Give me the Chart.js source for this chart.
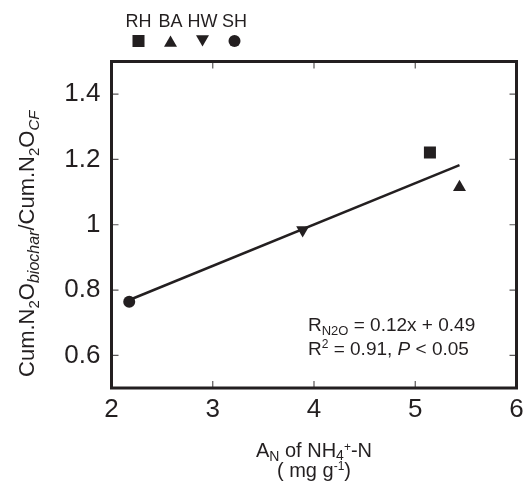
<!DOCTYPE html>
<html>
<head>
<meta charset="utf-8">
<script src="https://cdn.jsdelivr.net/npm/chart.js@4/dist/chart.umd.min.js"></script>
<style>
  html, body { margin: 0; padding: 0; background: #fff; }
  canvas { display: block; }
</style>
</head>
<body>
<canvas id="c" width="525" height="485"></canvas>
<script>
// Biochar types and their measured values
const biochars = ['RH', 'BA', 'HW', 'SH'];
const nh4Adsorption = [5.145, 5.437, 3.888, 2.175];   // A_N of NH4+-N (mg g-1)
const n2oRatio = [1.221, 1.115, 0.984, 0.764];        // Cum.N2O biochar / Cum.N2O CF
const xTicks = [2, 3, 4, 5, 6];
const yTicks = [0.6, 0.8, 1, 1.2, 1.4];

const INK = '#231f20';
const FAMILY = "'Liberation Sans', Arial, sans-serif";

const markerFor = {
  RH: { pointStyle: 'rect', radius: 8.5, rotation: 0 },
  BA: { pointStyle: 'triangle', radius: 7.5, rotation: 0 },
  HW: { pointStyle: 'triangle', radius: 7.5, rotation: 180 },
  SH: { pointStyle: 'circle', radius: 6, rotation: 0 }
};

// Least-squares fit through the four biochars
function linearFit(xs, ys) {
  const n = xs.length;
  const mx = xs.reduce((a, b) => a + b, 0) / n;
  const my = ys.reduce((a, b) => a + b, 0) / n;
  let sxy = 0, sxx = 0;
  for (let i = 0; i < n; i++) {
    sxy += (xs[i] - mx) * (ys[i] - my);
    sxx += (xs[i] - mx) * (xs[i] - mx);
  }
  const slope = sxy / sxx;
  return { slope, intercept: my - slope * mx };
}
const fit = linearFit(nh4Adsorption, n2oRatio);
const xLo = Math.min(...nh4Adsorption);
const xHi = Math.max(...nh4Adsorption);

const datasets = biochars.map((name, i) => ({
  label: name,
  data: [{ x: nh4Adsorption[i], y: n2oRatio[i] }],
  pointStyle: markerFor[name].pointStyle,
  pointRadius: markerFor[name].radius,
  pointRotation: markerFor[name].rotation,
  pointBackgroundColor: INK,
  pointBorderColor: INK,
  pointBorderWidth: 0,
  order: 1
}));
datasets.push({
  label: 'fit',
  type: 'line',
  data: [
    { x: xLo, y: fit.intercept + fit.slope * xLo },
    { x: xHi, y: fit.intercept + fit.slope * xHi }
  ],
  borderColor: INK,
  borderWidth: 2.5,
  pointRadius: 0,
  fill: false,
  order: 2
});

// Draw a sequence of text pieces with their own fonts and vertical shifts
function drawRuns(ctx, runs, x, y, align) {
  let total = 0;
  runs.forEach(r => { ctx.font = r.font; r.w = ctx.measureText(r.text).width; total += r.w; });
  let cx = align === 'center' ? x - total / 2 : x;
  ctx.textBaseline = 'alphabetic';
  ctx.textAlign = 'left';
  runs.forEach(r => {
    ctx.font = r.font;
    ctx.fillText(r.text, cx, y + (r.dy || 0));
    cx += r.w;
  });
}

const decorations = {
  id: 'decorations',
  afterDraw(chart) {
    const ctx = chart.ctx;
    const area = chart.chartArea;
    const xs = chart.scales.x, ys = chart.scales.y;
    ctx.save();

    // inward tick marks on all four sides
    ctx.strokeStyle = '#5a5758';
    ctx.lineWidth = 1.2;
    const tl = 7;
    xTicks.forEach(v => {
      if (v === xs.min || v === xs.max) return;
      const px = xs.getPixelForValue(v);
      ctx.beginPath();
      ctx.moveTo(px, area.bottom); ctx.lineTo(px, area.bottom - tl);
      ctx.moveTo(px, area.top); ctx.lineTo(px, area.top + tl);
      ctx.stroke();
    });
    yTicks.forEach(v => {
      const py = ys.getPixelForValue(v);
      ctx.beginPath();
      ctx.moveTo(area.left, py); ctx.lineTo(area.left + tl, py);
      ctx.moveTo(area.right, py); ctx.lineTo(area.right - tl, py);
      ctx.stroke();
    });

    // frame
    ctx.strokeStyle = INK;
    ctx.lineWidth = 3;
    ctx.strokeRect(area.left, area.top, area.right - area.left, area.bottom - area.top);

    ctx.fillStyle = INK;
    const main = (s) => s + 'px ' + FAMILY;

    // y axis title
    ctx.save();
    ctx.translate(34, (area.top + area.bottom) / 2 + 19);
    ctx.rotate(-Math.PI / 2);
    drawRuns(ctx, [
      { text: 'Cum.N', font: main(22) },
      { text: '2', font: main(15), dy: 5 },
      { text: 'O', font: main(22) },
      { text: 'biochar', font: 'italic ' + main(16), dy: 5 },
      { text: '/Cum.N', font: main(22) },
      { text: '2', font: main(15), dy: 5 },
      { text: 'O', font: main(22) },
      { text: 'CF', font: 'italic ' + main(15), dy: 5 }
    ], 0, 0, 'center');
    ctx.restore();

    // x axis title
    const xc = (area.left + area.right) / 2;
    drawRuns(ctx, [
      { text: 'A', font: main(20) },
      { text: 'N', font: main(14), dy: 4 },
      { text: ' of NH', font: main(20) },
      { text: '4', font: main(14), dy: 3 },
      { text: '+', font: main(12), dy: -6 },
      { text: '-N', font: main(20) }
    ], xc, 457, 'center');
    drawRuns(ctx, [
      { text: '( mg g', font: main(20) },
      { text: '-1', font: main(12), dy: -7 },
      { text: ')', font: main(20) }
    ], xc, 477, 'center');

    // regression annotation
    drawRuns(ctx, [
      { text: 'R', font: main(19) },
      { text: 'N2O', font: main(13), dy: 4 },
      { text: ' = 0.12x + 0.49', font: main(19) }
    ], 308, 331, 'left');
    drawRuns(ctx, [
      { text: 'R', font: main(19) },
      { text: '2', font: main(12), dy: -7 },
      { text: ' = 0.91, ', font: main(19) },
      { text: 'P', font: 'italic ' + main(19) },
      { text: ' < 0.05', font: main(19) }
    ], 308, 355, 'left');

    // legend above the plot
    biochars.forEach((name, i) => {
      const cx = 138.5 + i * 32;
      ctx.font = main(18);
      ctx.textAlign = 'center';
      ctx.textBaseline = 'alphabetic';
      ctx.fillText(name, cx, 27);
      const m = markerFor[name];
      const shift = m.pointStyle === 'triangle' ? (m.rotation ? -1.9 : 1.9) : 0;
      ctx.fillStyle = INK;
      ctx.strokeStyle = INK;
      Chart.helpers.drawPoint(ctx, {
        pointStyle: m.pointStyle, radius: m.radius, rotation: m.rotation, borderWidth: 0
      }, cx, 41 + shift);
    });

    ctx.restore();
  }
};

new Chart(document.getElementById('c'), {
  type: 'scatter',
  data: { datasets },
  options: {
    responsive: false,
    animation: false,
    layout: { padding: { left: 0, top: 61.5, right: 7, bottom: 0 } },
    plugins: { legend: { display: false }, tooltip: { enabled: false } },
    scales: {
      x: {
        type: 'linear', min: 2, max: 6,
        afterBuildTicks: s => { s.ticks = xTicks.map(v => ({ value: v })); },
        afterFit: s => { s.height = 97; s.paddingLeft = 0; s.paddingRight = 0; },
        grid: { display: false, drawTicks: false },
        border: { display: false },
        ticks: { color: INK, font: { family: FAMILY, size: 26 }, padding: 6, maxRotation: 0 }
      },
      y: {
        type: 'linear', min: 0.5, max: 1.5,
        afterBuildTicks: s => { s.ticks = yTicks.map(v => ({ value: v })); },
        afterFit: s => { s.width = 111.5; s.paddingTop = 0; s.paddingBottom = 0; },
        grid: { display: false, drawTicks: false },
        border: { display: false },
        ticks: { color: INK, font: { family: FAMILY, size: 26 }, padding: 11,
                 callback: v => String(v) }
      }
    }
  },
  plugins: [decorations]
});
</script>
</body>
</html>
